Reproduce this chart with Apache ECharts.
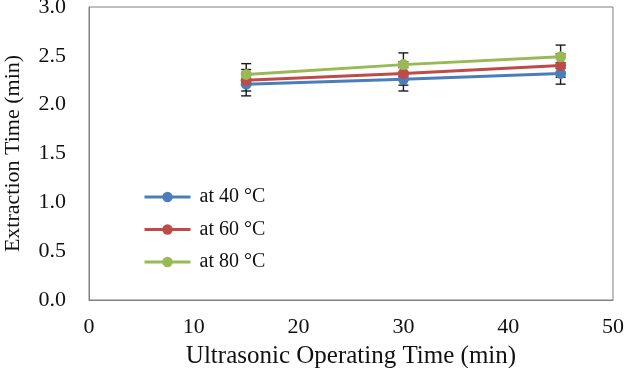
<!DOCTYPE html>
<html><head><meta charset="utf-8">
<script src="https://cdn.jsdelivr.net/npm/echarts@6/dist/echarts.min.js"></script>
<style>html,body{margin:0;padding:0;background:#fff}#c{width:629px;height:368px}</style>
</head><body><div id="c"></div>
<script>
const xValues = [15, 30, 45];
const seriesNames = ['at 40 \u00B0C', 'at 60 \u00B0C', 'at 80 \u00B0C'];
const values40 = [2.21, 2.26, 2.32];
const values60 = [2.25, 2.32, 2.40];
const values80 = [2.31, 2.41, 2.49];
const err40 = [0.12, 0.12, 0.11];
const err60 = [0.11, 0.12, 0.12];
const err80 = [0.11, 0.12, 0.12];
const colors = ['#4a7ebb', '#be4b48', '#98b954'];

const allVals = [values40, values60, values80];
const allErr = [err40, err60, err80];
const font = '"Liberation Serif", "Times New Roman", serif';

const lineSeries = allVals.map((v, i) => ({
  name: seriesNames[i], type: 'line', z: 3,
  data: xValues.map((x, j) => [x, v[j]]),
  symbol: 'circle', symbolSize: 11,
  lineStyle: { width: 3, color: colors[i] },
  itemStyle: { color: colors[i] }
}));
const errSeries = allVals.map((v, i) => ({
  type: 'custom', z: 2, silent: true,
  data: xValues.map((x, j) => [x, v[j] - allErr[i][j], v[j] + allErr[i][j]]),
  renderItem: function (params, api) {
    const lo = api.coord([api.value(0), api.value(1)]);
    const hi = api.coord([api.value(0), api.value(2)]);
    const w = 5;
    const st = { stroke: '#1a1a1a', lineWidth: 1.4 };
    return { type: 'group', children: [
      { type: 'line', shape: { x1: lo[0], y1: lo[1], x2: hi[0], y2: hi[1] }, style: st },
      { type: 'line', shape: { x1: lo[0]-w, y1: lo[1], x2: lo[0]+w, y2: lo[1] }, style: st },
      { type: 'line', shape: { x1: hi[0]-w, y1: hi[1], x2: hi[0]+w, y2: hi[1] }, style: st }
    ]};
  }
}));

const chart = echarts.init(document.getElementById('c'));
chart.setOption({
  animation: false,
  grid: { left: 89, right: 16, top: 7, bottom: 68, show: true, borderColor: '#808080', borderWidth: 1,
          containLabel: false, outerBoundsMode: 'none' },
  xAxis: {
    type: 'value', min: 0, max: 50, interval: 10,
    name: 'Ultrasonic Operating Time (min)', nameLocation: 'middle', nameGap: 44,
    nameTextStyle: { fontFamily: font, fontSize: 25, color: '#111' },
    axisLine: { lineStyle: { color: '#808080' } }, axisTick: { show: false },
    axisLabel: { fontFamily: font, fontSize: 22, color: '#111', margin: 16 },
    splitLine: { show: false }
  },
  yAxis: {
    type: 'value', min: 0, max: 3, interval: 0.5,
    name: 'Extraction Time (min)', nameLocation: 'middle', nameGap: 65,
    nameTextStyle: { fontFamily: font, fontSize: 22, color: '#111' },
    axisLine: { show: true, lineStyle: { color: '#808080' } }, axisTick: { show: false },
    axisLabel: { fontFamily: font, fontSize: 22, color: '#111', margin: 23, formatter: v => v.toFixed(1) },
    splitLine: { show: false }
  },
  legend: {
    data: seriesNames, orient: 'vertical', left: 138, top: 182, itemGap: 12.5,
    itemWidth: 46, itemHeight: 13,
    lineStyle: { width: 3 },
    textStyle: { fontFamily: font, fontSize: 20, color: '#111', padding: [0, 0, 0, 4] }
  },
  series: [...errSeries, ...lineSeries]
});
</script></body></html>
